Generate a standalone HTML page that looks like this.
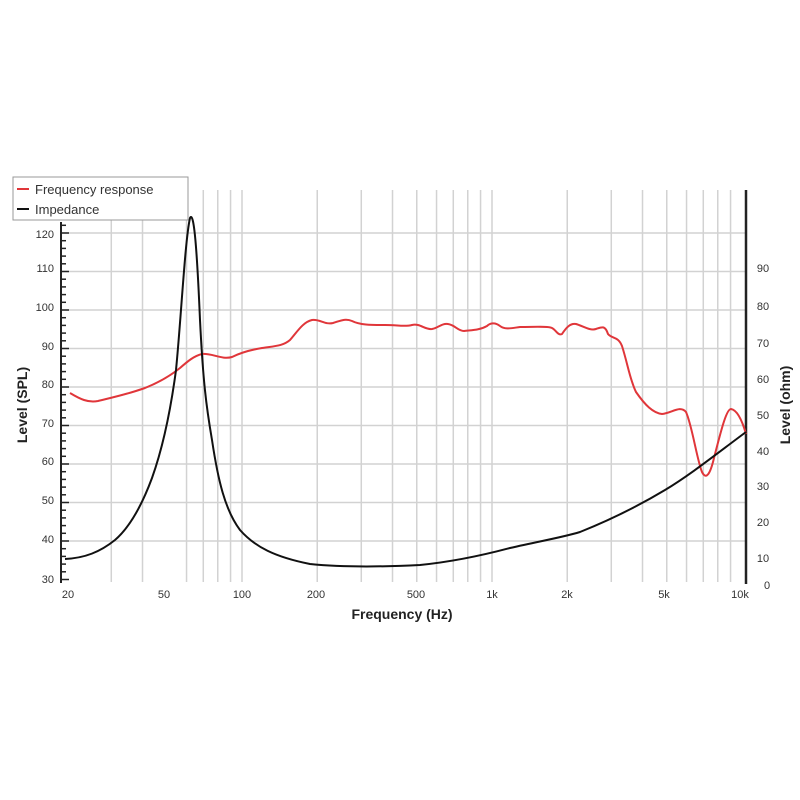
<!DOCTYPE html>
<html><head><style>body{margin:0;background:#fff}svg{display:block}text{font-family:"Liberation Sans",sans-serif}</style></head><body>
<svg width="800" height="800" viewBox="0 0 800 800" xmlns="http://www.w3.org/2000/svg">
<rect width="800" height="800" fill="#fff"/>
<g stroke="#d2d2d2" stroke-width="1.5" id="grid"></g>
<script>
var g=document.getElementById('grid'),ns='http://www.w3.org/2000/svg';
function X(f){return 242+(Math.log10(f)-2)*250;}
var fs=[];for(var d=10;d<=10000;d*=10)for(var k=1;k<10;k++){var f=d*k;if(f>=30&&f<=9000&&f!=50)fs.push(f);}
fs.forEach(function(f){var l=document.createElementNS(ns,'line');var x=X(f);l.setAttribute('x1',x);l.setAttribute('x2',x);l.setAttribute('y1',190);l.setAttribute('y2',582);g.appendChild(l);});
for(var v=40;v<=120;v+=10){var y=579.5-(v-30)*3.85;var l=document.createElementNS(ns,'line');l.setAttribute('x1',61);l.setAttribute('x2',746);l.setAttribute('y1',y);l.setAttribute('y2',y);g.appendChild(l);}
var t=document.createElementNS(ns,'g');t.setAttribute('stroke','#222');t.setAttribute('stroke-width','1.5');
for(var v=30;v<=122;v+=2){var y=579.5-(v-30)*3.85;var l=document.createElementNS(ns,'line');l.setAttribute('x1',61);l.setAttribute('x2',v%10==0?69:66);l.setAttribute('y1',y);l.setAttribute('y2',y);t.appendChild(l);}
document.currentScript.parentNode.appendChild(t);
</script>
<line x1="61" y1="222" x2="61" y2="583" stroke="#222" stroke-width="2"/>
<line x1="746" y1="190" x2="746" y2="584" stroke="#222" stroke-width="2.5"/>
<g font-size="11" fill="#333" text-anchor="end">
<text x="54" y="238">120</text><text x="54" y="272">110</text><text x="54" y="311">100</text><text x="54" y="350">90</text><text x="54" y="388">80</text><text x="54" y="427">70</text><text x="54" y="465">60</text><text x="54" y="504">50</text><text x="54" y="543">40</text><text x="54" y="583">30</text>
</g>
<g font-size="11" fill="#333" text-anchor="middle">
<text x="763" y="272">90</text><text x="763" y="310">80</text><text x="763" y="347">70</text><text x="763" y="383">60</text><text x="763" y="419">50</text><text x="763" y="455">40</text><text x="763" y="490">30</text><text x="763" y="526">20</text><text x="763" y="562">10</text><text x="767" y="589">0</text>
<text x="68" y="598">20</text><text x="164" y="598">50</text><text x="242" y="598">100</text><text x="316" y="598">200</text><text x="416" y="598">500</text><text x="492" y="598">1k</text><text x="567" y="598">2k</text><text x="664" y="598">5k</text><text x="740" y="598">10k</text>
</g>
<text x="402" y="619" font-size="14" font-weight="bold" fill="#222" text-anchor="middle">Frequency (Hz)</text>
<text transform="translate(27,405) rotate(-90)" font-size="14" font-weight="bold" fill="#222" text-anchor="middle">Level (SPL)</text>
<text transform="translate(790,405) rotate(-90)" font-size="14" font-weight="bold" fill="#222" text-anchor="middle">Level (ohm)</text>
<path fill="none" stroke="#e0363a" stroke-width="2" stroke-linejoin="round" d="M70,393 C80,399 88,403 98,401 C110,398 125,395 145,388 C160,382 170,376 180,368 C188,361 194,356 202,354 C212,353 222,360 232,357 C240,353 250,350 262,348 C275,346 283,346 290,340 C297,332 303,322 312,320 C320,319 325,325 333,323 C340,321 345,318 352,321 C360,325 370,325 385,325 C398,325 405,327 412,325 C420,323 425,330 432,329 C438,328 442,323 448,324 C455,325 458,331 464,331 C472,330 480,330 487,326 C490,323 495,322 500,326 C505,330 512,328 520,327 C535,327 548,326 552,328 C556,330 558,336 562,334 C566,328 570,323 576,324 C583,326 590,331 596,329 C602,327 605,325 608,334 C612,339 618,336 622,346 C628,365 630,380 636,392 C645,405 653,413 662,414 C672,413 680,405 686,412 C692,425 697,460 702,472 C706,480 710,475 714,458 C720,435 726,409 731,409 C737,410 742,420 746,434"/>
<path fill="none" stroke="#111" stroke-width="2" stroke-linejoin="round" d="M65,559 C85,558 100,552 115,540 C130,527 142,505 152,478 C162,450 170,415 176,370 C181,320 185,240 190,218 C194,210 197,250 200,320 C203,380 206,405 212,440 C218,480 225,510 240,530 C255,547 275,557 310,564 C340,567 380,567 420,565 C450,562 480,556 510,548 C540,541 560,538 580,532 C610,520 640,505 665,490 C690,475 715,455 746,432"/>
<rect x="13" y="177" width="175" height="43" fill="#fff" stroke="#999" stroke-width="1"/>
<line x1="17" y1="189" x2="29" y2="189" stroke="#e0363a" stroke-width="2"/>
<line x1="17" y1="209" x2="29" y2="209" stroke="#111" stroke-width="2"/>
<text x="35" y="194" font-size="13" fill="#333">Frequency response</text>
<text x="35" y="214" font-size="13" fill="#333">Impedance</text>
</svg>
</body></html>
